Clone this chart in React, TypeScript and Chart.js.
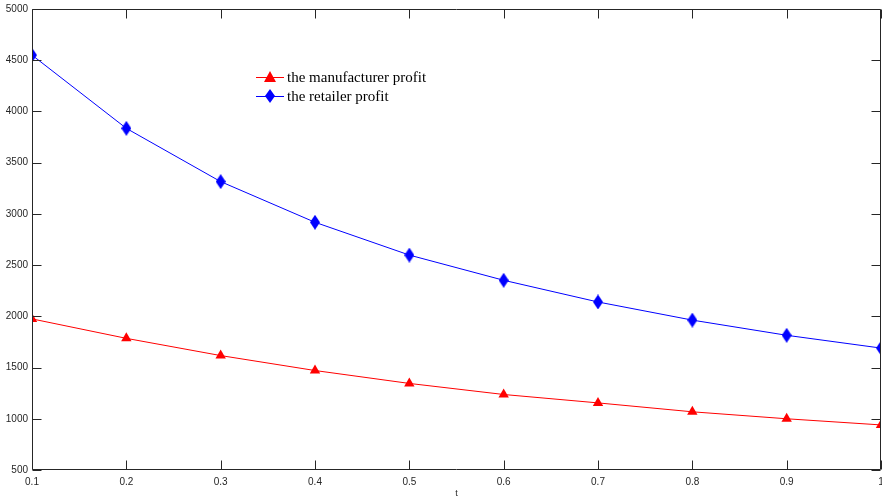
import React, { useEffect, useRef } from "react";
import { Chart, registerables } from "chart.js";

Chart.register(...registerables);

const tValues = [0.1, 0.2, 0.3, 0.4, 0.5, 0.6, 0.7, 0.8, 0.9, 1.0];
const manufacturerProfit = [1975, 1785, 1617, 1471, 1345, 1237, 1155, 1068, 1000, 940];
const retailerProfit = [4550, 3835, 3315, 2918, 2598, 2352, 2140, 1963, 1815, 1690];
const seriesLabels = ["the manufacturer profit", "the retailer profit"];
const yMin = 500;
const yMax = 5000;
const yStep = 500;
const xMin = 0.1;
const xMax = 1;
const xStep = 0.1;

const AXIS_COLOR = "#262626";

function makeDiamond(color: string, w: number, h: number) {
  const c = document.createElement("canvas");
  c.width = w;
  c.height = h;
  const ctx = c.getContext("2d")!;
  ctx.fillStyle = color;
  ctx.beginPath();
  ctx.moveTo(w / 2, 0);
  ctx.lineTo(w, h / 2);
  ctx.lineTo(w / 2, h);
  ctx.lineTo(0, h / 2);
  ctx.closePath();
  ctx.fill();
  return c;
}

const boxPlugin = {
  id: "matlabBox",
  afterDraw(chart: any) {
    const { ctx, chartArea } = chart;
    const { left, right, top, bottom } = chartArea;
    const xs = chart.scales.x;
    const ys = chart.scales.y;
    const L = Math.round(left) + 0.5;
    const R = Math.round(right) - 0.5;
    const T = Math.round(top) + 0.5;
    const B = Math.round(bottom) - 0.5;
    ctx.save();
    ctx.strokeStyle = AXIS_COLOR;
    ctx.lineWidth = 1;
    ctx.beginPath();
    ctx.rect(L, T, R - L, B - T);
    const tl = 9;
    xs.ticks.forEach((t: any) => {
      const px = Math.round(xs.getPixelForValue(t.value)) + 0.5;
      ctx.moveTo(px, B);
      ctx.lineTo(px, B - tl);
      ctx.moveTo(px, T);
      ctx.lineTo(px, T + tl);
    });
    ys.ticks.forEach((t: any) => {
      const py = Math.round(ys.getPixelForValue(t.value)) + 0.5;
      ctx.moveTo(L, py);
      ctx.lineTo(L + tl, py);
      ctx.moveTo(R, py);
      ctx.lineTo(R - tl, py);
    });
    ctx.stroke();

    // legend
    const lx = left + 224;
    const ly = top + 68;
    const rowH = 19;
    chart.data.datasets.forEach((ds: any, i: number) => {
      const y = ly + i * rowH;
      ctx.strokeStyle = ds.borderColor;
      ctx.lineWidth = 1;
      ctx.beginPath();
      ctx.moveTo(lx, y + 0.5);
      ctx.lineTo(lx + 28, y + 0.5);
      ctx.stroke();
      const cx = lx + 14;
      ctx.fillStyle = ds.borderColor;
      ctx.beginPath();
      if (i === 0) {
        ctx.moveTo(cx, y - 6);
        ctx.lineTo(cx + 6, y + 5);
        ctx.lineTo(cx - 6, y + 5);
      } else {
        ctx.moveTo(cx, y - 7);
        ctx.lineTo(cx + 5, y);
        ctx.lineTo(cx, y + 7);
        ctx.lineTo(cx - 5, y);
      }
      ctx.closePath();
      ctx.fill();
      ctx.fillStyle = "#000";
      ctx.font = "15px 'Liberation Serif', 'DejaVu Serif', serif";
      ctx.textBaseline = "middle";
      ctx.textAlign = "left";
      ctx.fillText(ds.label, lx + 31, y + 1);
    });
    ctx.restore();
  },
};

export default function App() {
  const ref = useRef<HTMLCanvasElement>(null);
  useEffect(() => {
    if (!ref.current) return;
    const diamond = makeDiamond("#0000ff", 10, 15);
    const chart = new Chart(ref.current, {
      type: "line",
      data: {
        datasets: [
          {
            label: seriesLabels[0],
            data: tValues.map((t, i) => ({ x: t, y: manufacturerProfit[i] })),
            borderColor: "#ff0000",
            backgroundColor: "#ff0000",
            borderWidth: 1,
            pointStyle: "triangle",
            pointRadius: 6,
            pointBorderWidth: 0,
            tension: 0,
          },
          {
            label: seriesLabels[1],
            data: tValues.map((t, i) => ({ x: t, y: retailerProfit[i] })),
            borderColor: "#0000ff",
            backgroundColor: "#0000ff",
            borderWidth: 1,
            pointStyle: diamond as any,
            pointRadius: 7,
            pointBorderWidth: 0,
            tension: 0,
          },
        ],
      },
      options: {
        animation: false,
        responsive: false,
        devicePixelRatio: 1,
        layout: { autoPadding: false, padding: { top: 9, right: 1, left: 0, bottom: 0 } },
        plugins: { legend: { display: false }, tooltip: { enabled: false } },
        scales: {
          x: {
            type: "linear",
            min: xMin,
            max: xMax,
            grid: { display: false, drawTicks: false },
            border: { display: false },
            ticks: {
              stepSize: xStep,
              padding: 6,
              color: AXIS_COLOR,
              font: { family: "'Liberation Sans', Arial, sans-serif", size: 10 },
              maxRotation: 0,
              autoSkip: false,
              callback: (v: any) => String(Math.round(Number(v) * 10) / 10),
            },
            title: {
              display: true,
              text: "t",
              color: AXIS_COLOR,
              font: { family: "'Liberation Sans', Arial, sans-serif", size: 9 },
              padding: { top: 2, bottom: 0 },
            },
            afterFit(scale: any) {
              scale.height = 29;
              scale.paddingLeft = 0;
              scale.paddingRight = 0;
            },
          },
          y: {
            type: "linear",
            min: yMin,
            max: yMax,
            grid: { display: false, drawTicks: false },
            border: { display: false },
            ticks: {
              stepSize: yStep,
              padding: 4,
              color: AXIS_COLOR,
              font: { family: "'Liberation Sans', Arial, sans-serif", size: 10 },
              callback: (v: any) => String(v),
            },
            afterFit(scale: any) {
              scale.width = 32;
              scale.paddingTop = 0;
              scale.paddingBottom = 0;
            },
          },
        },
      },
      plugins: [boxPlugin],
    });
    return () => chart.destroy();
  }, []);
  return (
    <div style={{ position: "absolute", left: 0, top: 0, width: 882, height: 499, background: "#fff" }}>
      <canvas ref={ref} width={882} height={499} style={{ display: "block" }} />
    </div>
  );
}
